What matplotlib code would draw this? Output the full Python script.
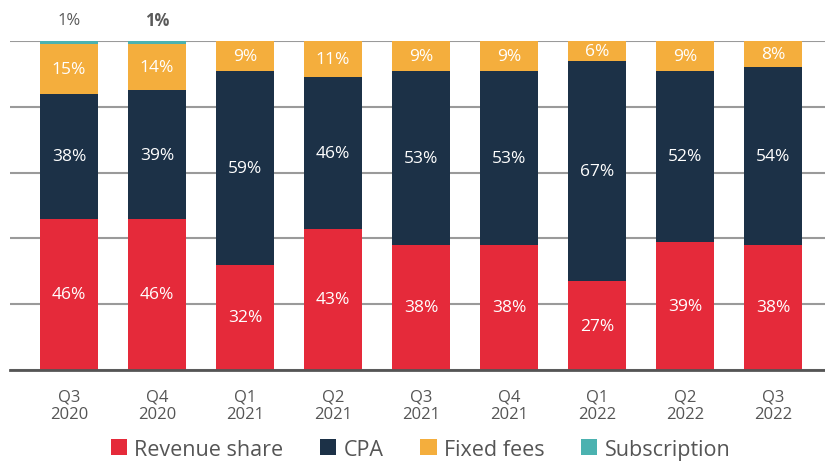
import numpy as np
import matplotlib.pyplot as plt

# データ
quarters = ['Q3\n2020', 'Q4\n2020', 'Q1\n2021', 'Q2\n2021', 'Q3\n2021',
            'Q4\n2021', 'Q1\n2022', 'Q2\n2022', 'Q3\n2022']
revenue_share = [46, 46, 32, 43, 38, 38, 27, 39, 38]
cpa = [38, 39, 59, 46, 53, 53, 67, 52, 54]
fixed_fees = [15, 14, 9, 11, 9, 9, 6, 9, 8]
subscription = [1, 1, 0, 0, 0, 0, 0, 0, 0]

series = [
  ('Revenue share', revenue_share, '#E52A3A'),
  ('CPA', cpa, '#1C3147'),
  ('Fixed fees', fixed_fees, '#F4AE3D'),
  ('Subscription', subscription, '#4BB2B0'),
]

plt.rcParams['font.family'] = ['Open Sans', 'DejaVu Sans']

fig = plt.figure(figsize=(8.25, 4.64), dpi=100)
ax = fig.add_axes([10 / 825, (464 - 371) / 464, 815 / 825, (371 - 42) / 464])

x = np.arange(len(quarters))
bottom = np.zeros(len(quarters))
for name, vals, color in series:
  vals = np.array(vals, dtype=float)
  ax.bar(x, vals, width=0.66, bottom=bottom, color=color, label=name, zorder=3)
  for i, v in enumerate(vals):
    if v <= 0:
      continue
    if name == 'Subscription':
      # 1% は棒の上に表示
      ax.text(x[i], 106.5, f'{int(v)}%', ha='center', va='center',
              fontsize=12, color='#5a5a5a',
              fontweight='bold' if i == 1 else 'normal')
    else:
      ax.text(x[i], bottom[i] + v / 2, f'{int(v)}%', ha='center', va='center',
              fontsize=12.5, color='white', zorder=4)
  bottom += vals

ax.set_xlim(-0.67, 8.59)
ax.set_ylim(0, 100)
ax.set_yticks([0, 20, 40, 60, 80, 100])
ax.yaxis.grid(True, color='#9a9a9a', linewidth=1.5, zorder=0)
ax.set_yticklabels([])
ax.tick_params(axis='y', length=0)
ax.set_xticks(x)
ax.set_xticklabels(quarters, fontsize=12, color='#555555', linespacing=1.15)
ax.tick_params(axis='x', length=0, pad=13)
for s in ['top', 'right', 'left']:
  ax.spines[s].set_visible(False)
ax.spines['bottom'].set_color('#555555')
ax.spines['bottom'].set_linewidth(2)
ax.spines['bottom'].set_zorder(5)

fig.legend(loc='center', bbox_to_anchor=(0.51, 0.03), ncol=4, frameon=False,
           fontsize=15.5, handlelength=0.75, handleheight=0.75, handletextpad=0.35,
           columnspacing=1.7, labelcolor='#555555', borderpad=0)

fig.savefig('out.png', dpi=100)
